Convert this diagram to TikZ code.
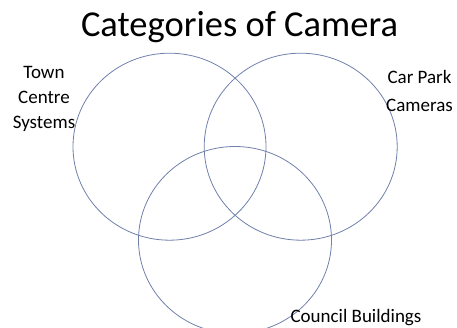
\documentclass[tikz,border=0pt]{standalone}
\usepackage{fontspec}
\setmainfont{Carlito}
\usetikzlibrary{shapes.geometric}
\definecolor{ringcolor}{RGB}{112, 128, 170}

\begin{document}
\begin{tikzpicture}[x=1pt, y=-1pt,
    ring/.style={draw = ringcolor, ellipse, line width=0.8pt, inner sep=0pt, minimum width=193pt, minimum height=187pt},
    caption/.style={font=\fontsize{19}{25}\selectfont, align=center, inner sep=0pt}
    ]
    \useasboundingbox (0,0) rectangle (457,328);

    % Title
    \node[font=\fontsize{36.5}{40}\selectfont, anchor=base, inner sep=0pt] (title) at (239.5,36.5) {Categories of Camera};

    % Define circles
    \foreach \name/\pos in {town/{(169.5,146.7)}, carpark/{(300.7,146.7)}, council/{(235,240)}} {
        \node[ring, at=\pos] (\name) {};
    }

    % Define labels (base = last line)
    \node[caption, anchor=base] (townlabel) at (44,129) {Town\\Centre\\Systems};
    \node[caption, anchor=base, font=\fontsize{19}{27.5}\selectfont] (carparklabel) at (419.5,111.5) {Car Park\\Cameras};
    \node[caption, anchor=base] (councillabel) at (356,322.5) {Council Buildings};
\end{tikzpicture}
\end{document}
